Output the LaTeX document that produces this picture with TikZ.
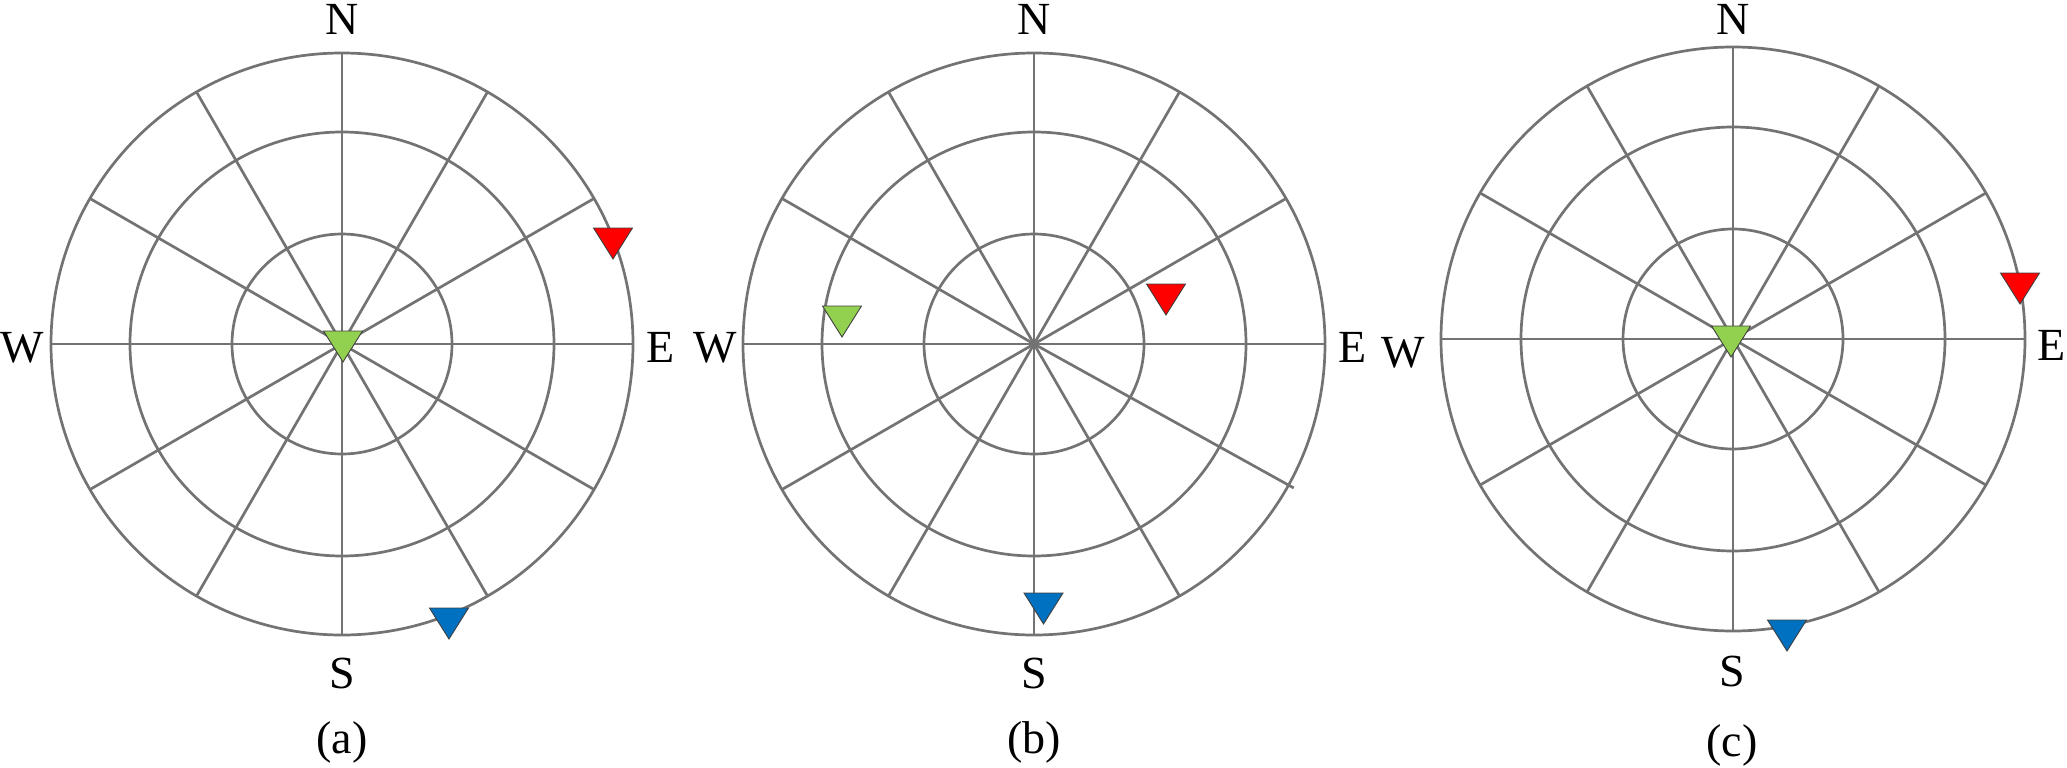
\documentclass[tikz,border=0pt]{standalone}
\usepackage{fontspec}
\setmainfont{Liberation Serif}
\definecolor{gridgray}{RGB}{115,115,115}
\definecolor{mkgreen}{RGB}{146,208,80}
\definecolor{mkred}{RGB}{255,0,0}
\definecolor{mkblue}{RGB}{0,112,192}
\newcommand\polarplot[4]{%
  \foreach \rr in {110,212,#3} \draw[grid] (#1,#2) circle[radius=\rr pt];
  \foreach \a in {#4} \draw[grid] (#1,#2) -- ++(\a:#3);
}
\newcommand\mymarker[3]{%
  \draw[mk,fill=#1] (#2-19.5,#3) -- (#2+19.5,#3) -- (#2,#3+31) -- cycle;
}
\begin{document}
\begin{tikzpicture}[x=1pt,y=-1pt,
  grid/.style={draw=gridgray,line width=2.7pt},
  lbl/.style={font=\fontsize{46}{50}\selectfont,anchor=base,inner sep=0pt},
  mk/.style={draw=black!75,line width=0.9pt,line join=miter}]
\useasboundingbox (0,0) rectangle (2067,768);
% (a)
\polarplot{342}{344}{291}{0,30,...,330}
\node[lbl] (aN) at (342,35) {N};
\node[lbl] (aW) at (22,362) {W};
\node[lbl] (aE) at (661,362) {E};
\node[lbl] (aS) at (342,688) {S};
\node[lbl] (acap) at (342,753) {(a)};
\mymarker{mkgreen}{343}{331}
\mymarker{mkred}{613}{228}
\mymarker{mkblue}{449}{608}
% (b)
\polarplot{1034}{344}{291}{0,60,90,...,330}
\draw[grid] (1034,344) -- ++(29:297);
\node[lbl] (bN) at (1034,35) {N};
\node[lbl] (bW) at (715,362) {W};
\node[lbl] (bE) at (1353,362) {E};
\node[lbl] (bS) at (1034,688) {S};
\node[lbl] (bcap) at (1034,753) {(b)};
\mymarker{mkgreen}{842}{306}
\mymarker{mkred}{1166}{284}
\mymarker{mkblue}{1043.5}{593}
% (c)
\polarplot{1733}{339}{292}{0,30,...,330}
\node[lbl] (cN) at (1733,35) {N};
\node[lbl] (cW) at (1403,367) {W};
\node[lbl] (cE) at (2052,360) {E};
\node[lbl] (cS) at (1732,686) {S};
\node[lbl] (ccap) at (1732,756) {(c)};
\mymarker{mkgreen}{1731}{326}
\mymarker{mkred}{2020}{273}
\mymarker{mkblue}{1787}{620}
\end{tikzpicture}
\end{document}
